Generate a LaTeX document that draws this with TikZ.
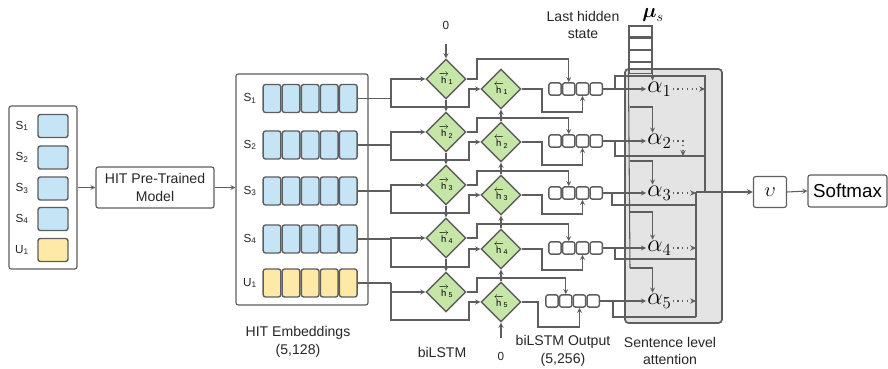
\documentclass[tikz,border=0pt]{standalone}
\usepackage[no-math]{fontspec}
\setmainfont{Liberation Sans}
\usepackage{amsmath}
\usepackage{tikz}
\usetikzlibrary{arrows, arrows.meta}
\usetikzlibrary{shapes.geometric, positioning}
\definecolor{linegray}{HTML}{5E5E5E}
\definecolor{cellblue}{HTML}{C5E4F6}
\definecolor{cellyellow}{HTML}{FFE9A6}
\definecolor{cellgreen}{HTML}{C6E6A8}
\definecolor{attgray}{HTML}{E4E4E4}
\tikzstyle{arrow} = [draw=linegray, line width=0.9pt, ->, >=stealth]
\tikzstyle{wire} = [draw=linegray, line width=0.9pt]
\tikzstyle{dotarrow} = [draw=linegray, line width=0.9pt, dash pattern=on 1pt off 3pt, -{Stealth[length=5pt, width=4.5pt]}]
\tikzstyle{box} = [rectangle, draw=linegray, line width=1pt, rounded corners=2pt, fill=white, align=center]
\tikzstyle{scell} = [rectangle, draw=linegray, line width=1.2pt, rounded corners=2pt, fill=cellblue, inner sep=0pt]
\tikzstyle{ucell} = [scell, fill=cellyellow]
\tikzstyle{ecell} = [scell, minimum width=0.53cm, minimum height=0.84cm]
\tikzstyle{eucell} = [ecell, fill=cellyellow]
\tikzstyle{ocell} = [rectangle, draw=linegray, line width=1.2pt, rounded corners=2pt, fill=white, minimum width=0.37cm, minimum height=0.37cm, inner sep=0pt]
\tikzstyle{mcell} = [rectangle, draw=linegray, line width=0.9pt, minimum width=0.69cm, minimum height=0.33cm, inner sep=0pt]
\tikzstyle{hnode} = [diamond, draw=linegray, line width=1.2pt, fill=cellgreen, minimum size=1.2cm, inner sep=0pt, font=\fontsize{8}{9}\selectfont]
\tikzstyle{alphanode} = [anchor=west, inner sep=1pt, font=\fontsize{20}{20}\selectfont]
\tikzstyle{lbl} = [font=\fontsize{12}{15}\selectfont, align=center, text=black!85]
\tikzstyle{sub} = [font=\fontsize{10}{12}\selectfont, text=black!85]

\begin{document}
\begin{tikzpicture}[x=0.03cm, y=-0.03cm]
\useasboundingbox (0,0) rectangle (888,369);

% input sentences
\node [box, minimum width=2.04cm, minimum height=4.89cm] (inbox) at (43,187.5) {};
\node [scell, minimum width=0.9cm, minimum height=0.69cm] (is1) at (53,126) {};
\node [scell, minimum width=0.9cm, minimum height=0.69cm] (is2) at (53,157.5) {};
\node [scell, minimum width=0.9cm, minimum height=0.69cm] (is3) at (53,188.5) {};
\node [scell, minimum width=0.9cm, minimum height=0.69cm] (is4) at (53,219) {};
\node [ucell, minimum width=0.9cm, minimum height=0.69cm] (iu1) at (53,250) {};
\node [sub] (ls1) at (22,126) {S\textsubscript{1}};
\node [sub] (ls2) at (22,157.5) {S\textsubscript{2}};
\node [sub] (ls3) at (22,188.5) {S\textsubscript{3}};
\node [sub] (ls4) at (22,219) {S\textsubscript{4}};
\node [sub] (lu1) at (22,250) {U\textsubscript{1}};

\node [box, lbl, minimum width=3.54cm, minimum height=1.23cm] (hit) at (155,187.5) {HIT Pre-Trained\\Model};

% embeddings
\node [box, minimum width=3.96cm, minimum height=6.93cm] (embbox) at (302,189.5) {};
\node [ecell] (e11) at (272,98.5) {};
\node [ecell] (e12) [right=0pt of e11] {};
\node [ecell] (e13) [right=0pt of e12] {};
\node [ecell] (e14) [right=0pt of e13] {};
\node [ecell] (e15) [right=0pt of e14] {};
\node [ecell] (e21) at (272,145) {};
\node [ecell] (e22) [right=0pt of e21] {};
\node [ecell] (e23) [right=0pt of e22] {};
\node [ecell] (e24) [right=0pt of e23] {};
\node [ecell] (e25) [right=0pt of e24] {};
\node [ecell] (e31) at (272,191) {};
\node [ecell] (e32) [right=0pt of e31] {};
\node [ecell] (e33) [right=0pt of e32] {};
\node [ecell] (e34) [right=0pt of e33] {};
\node [ecell] (e35) [right=0pt of e34] {};
\node [ecell] (e41) at (272,239) {};
\node [ecell] (e42) [right=0pt of e41] {};
\node [ecell] (e43) [right=0pt of e42] {};
\node [ecell] (e44) [right=0pt of e43] {};
\node [ecell] (e45) [right=0pt of e44] {};
\node [eucell] (e51) at (272,283) {};
\node [eucell] (e52) [right=0pt of e51] {};
\node [eucell] (e53) [right=0pt of e52] {};
\node [eucell] (e54) [right=0pt of e53] {};
\node [eucell] (e55) [right=0pt of e54] {};
\node [sub] (le1) at (250,98.5) {S\textsubscript{1}};
\node [sub] (le2) at (250,145) {S\textsubscript{2}};
\node [sub] (le3) at (250,191) {S\textsubscript{3}};
\node [sub] (le4) at (250,239) {S\textsubscript{4}};
\node [sub] (le5) at (250,283) {U\textsubscript{1}};

% biLSTM
\node [hnode] (f1) at (446,79) {$\overrightarrow{\text{h}}_{\text{1}}$};
\node [hnode] (f2) at (446,132) {$\overrightarrow{\text{h}}_{\text{2}}$};
\node [hnode] (f3) at (446,185) {$\overrightarrow{\text{h}}_{\text{3}}$};
\node [hnode] (f4) at (446,238) {$\overrightarrow{\text{h}}_{\text{4}}$};
\node [hnode] (f5) at (446,292) {$\overrightarrow{\text{h}}_{\text{5}}$};
\node [hnode] (b1) at (501,89) {$\overleftarrow{\text{h}}_{\text{1}}$};
\node [hnode] (b2) at (501,142) {$\overleftarrow{\text{h}}_{\text{2}}$};
\node [hnode] (b3) at (501,195) {$\overleftarrow{\text{h}}_{\text{3}}$};
\node [hnode] (b4) at (501,249) {$\overleftarrow{\text{h}}_{\text{4}}$};
\node [hnode] (b5) at (501,302) {$\overleftarrow{\text{h}}_{\text{5}}$};
\node [sub] (z1) at (446,25) {0};
\node [sub] (z2) at (501,356) {0};

% biLSTM output
\node [ocell] (o11) at (555,89) {};
\node [ocell] (o12) [right=0pt of o11] {};
\node [ocell] (o13) [right=0pt of o12] {};
\node [ocell] (o14) [right=0pt of o13] {};
\node [ocell] (o21) at (555,141) {};
\node [ocell] (o22) [right=0pt of o21] {};
\node [ocell] (o23) [right=0pt of o22] {};
\node [ocell] (o24) [right=0pt of o23] {};
\node [ocell] (o31) at (555,193) {};
\node [ocell] (o32) [right=0pt of o31] {};
\node [ocell] (o33) [right=0pt of o32] {};
\node [ocell] (o34) [right=0pt of o33] {};
\node [ocell] (o41) at (555,248) {};
\node [ocell] (o42) [right=0pt of o41] {};
\node [ocell] (o43) [right=0pt of o42] {};
\node [ocell] (o44) [right=0pt of o43] {};
\node [ocell] (o51) at (552,301) {};
\node [ocell] (o52) [right=0pt of o51] {};
\node [ocell] (o53) [right=0pt of o52] {};
\node [ocell] (o54) [right=0pt of o53] {};

% attention
\node [rectangle, draw=linegray, line width=1.5pt, fill=attgray, rounded corners=3pt, minimum width=2.91cm, minimum height=7.62cm] (att) at (673.5,196) {};
\node [mcell] (ms1) at (640.5,31.5) {};
\node [mcell] (ms2) [below=0pt of ms1] {};
\node [mcell] (ms3) [below=0pt of ms2] {};
\node [mcell] (ms4) [below=0pt of ms3] {};
\node [font=\fontsize{18}{18}\selectfont] (mu) at (653,15) {$\boldsymbol{\mu}_s$};
\node [alphanode] (a1) at (646,89) {$\alpha_1$};
\node [alphanode] (a2) at (646,141) {$\alpha_2$};
\node [alphanode] (a3) at (646,193) {$\alpha_3$};
\node [alphanode] (a4) at (646,248) {$\alpha_4$};
\node [alphanode] (a5) at (646,301) {$\alpha_5$};

\node [box, minimum width=0.99cm, minimum height=0.93cm, font=\fontsize{18}{18}\selectfont] (v) at (770,192) {$\upsilon$};
\node [box, minimum width=2.37cm, minimum height=0.96cm, font=\fontsize{16}{18}\selectfont] (soft) at (847.5,191) {Softmax};

% labels
\node [lbl] (embtxt) at (298,342) {HIT Embeddings\\(5,128)};
\node [lbl] (bitxt) at (442,352) {biLSTM};
\node [lbl] (outtxt) at (563,351) {biLSTM Output\\(5,256)};
\node [lbl] (atttxt) at (670,351) {Sentence level\\attention};
\node [lbl] (lasttxt) at (583,25) {Last hidden\\state};

% junctions
\coordinate (j1) at (391,98.5);
\coordinate (j2) at (391,145);
\coordinate (j3) at (391,191);
\coordinate (j4) at (391,239);
\coordinate (j5) at (391,283);
\coordinate (t1) at (615,89);
\coordinate (t2) at (615,141);
\coordinate (t3) at (612,193);
\coordinate (t4) at (615,248);
\coordinate (t5) at (613,301);
\coordinate (r1) at (705,76);
\coordinate (r2) at (705,192);
\coordinate (q1) at (696,192);
\coordinate (q2) at (696,317);
\coordinate (mu2) at (630,107);
\coordinate (mu3) at (630,161);
\coordinate (mu4) at (630,212);
\coordinate (mu5) at (630,268);

\draw [arrow] (inbox.east) -- (hit.west);
\draw [arrow] (hit.east) -- (hit.east -| embbox.west);

\draw [wire] (e15.east) -- (j1);
\draw [wire] (e25.east) -- (j2);
\draw [wire] (e35.east) -- (j3);
\draw [wire] (e45.east) -- (j4);
\draw [wire] (e55.east) -- (j5);

\draw [arrow] (j1) |- (f1.west);
\draw [arrow] (j2) |- (f2.west);
\draw [arrow] (j3) |- (f3.west);
\draw [arrow] (j4) |- (f4.west);
\draw [arrow] (j5) |- (f5.west);

\draw [arrow] (j1) |- (469,107) |- (b1.west);
\draw [arrow] (j2) |- (469,160) |- (b2.west);
\draw [arrow] (j3) |- (469,213) |- (b3.west);
\draw [arrow] (j4) |- (469,267) |- (b4.west);
\draw [arrow] (j5) |- (469,320) |- (b5.west);

\draw [arrow] ([yshift=-9pt]z1.south) -- (f1.north);
\draw [arrow] (f1.south) -- (f2.north);
\draw [arrow] (f2.south) -- (f3.north);
\draw [arrow] (f3.south) -- (f4.north);
\draw [arrow] (f4.south) -- (f5.north);
\draw [arrow] ([yshift=8pt]z2.north) -- (b5.south);
\draw [arrow] (b5.north) -- (b4.south);
\draw [arrow] (b4.north) -- (b3.south);
\draw [arrow] (b3.north) -- (b2.south);
\draw [arrow] (b2.north) -- (b1.south);

\draw [arrow] (f1.east) -| (477,59) -| (o12.north);
\draw [arrow] (f2.east) -| (477,118) -| (o22.north);
\draw [arrow] (f3.east) -| (477,171) -| (o32.north);
\draw [arrow] (f4.east) -| (477,224) -| (o42.north);
\draw [arrow] (f5.east) -| (477,278) -| (o52.north);

\draw [arrow] (b1.east) -| (542,112) -| (o13.south);
\draw [arrow] (b2.east) -| (542,165) -| (o23.south);
\draw [arrow] (b3.east) -| (542,214) -| (o33.south);
\draw [arrow] (b4.east) -| (542,270) -| (o43.south);
\draw [arrow] (b5.east) -| (538,327) -| (o53.south);

\draw [arrow] (o14.east) -- (a1.west);
\draw [arrow] (o24.east) -- (a2.west);
\draw [arrow] (o34.east) -- (a3.west);
\draw [arrow] (o44.east) -- (a4.west);
\draw [arrow] (o54.east) -- (a5.west);

\draw [arrow] (ms4.south east) -- (a1.north -| ms4.south east);
\draw [wire] (ms4.south west) -- (mu5);
\draw [arrow] (mu2) -| (a2.north -| ms4.south east);
\draw [arrow] (mu3) -| (a3.north -| ms4.south east);
\draw [arrow] (mu4) -| (a4.north -| ms4.south east);
\draw [arrow] (mu5) -| (a5.north -| ms4.south east);

\draw [wire] (t1) |- (r1) -- (r2);
\draw [wire] (t2) |- (705,156);
\draw [wire] (t3) |- (696,205);
\draw [wire] (t4) |- (696,259);
\draw [wire] (t5) |- (q2);
\draw [wire] (q1) -- (q2);
\draw [wire] (r2) -- (q1);

\draw [dotarrow] (a1.east) -- (a1.east -| r1);
\draw [dotarrow] (a2.east) -| (683,156);
\draw [dotarrow] (a3.east) -- (a3.east -| q1);
\draw [dotarrow] (a4.east) -- (a4.east -| q1);
\draw [dotarrow] (a5.east) -- (a5.east -| q1);

\draw [arrow, line width=1.3pt] (q1) -- (v.west);
\draw [arrow] (v.east) -- (soft.west);
\end{tikzpicture}
\end{document}
